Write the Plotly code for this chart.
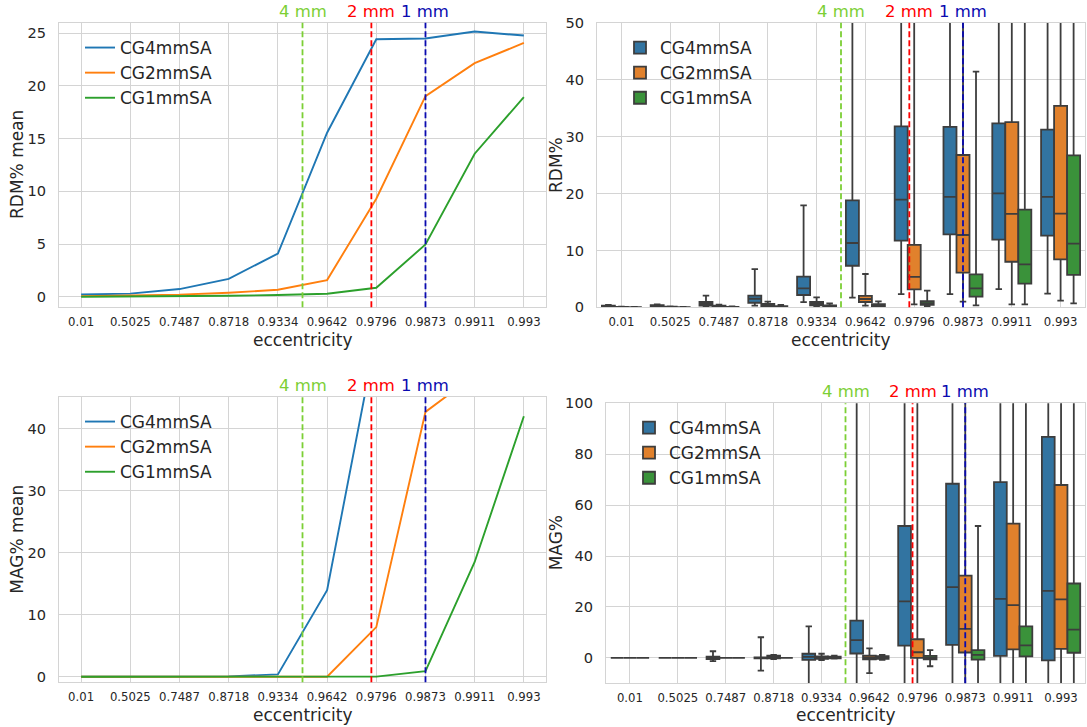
import plotly.graph_objects as go

W, H = 1087, 727
FONT = "DejaVu Sans"
TXT = "#262626"
GRID = "#d4d4d4"

categories = ["0.01", "0.5025", "0.7487", "0.8718", "0.9334",
              "0.9642", "0.9796", "0.9873", "0.9911", "0.993"]
series_names = ["CG4mmSA", "CG2mmSA", "CG1mmSA"]

# RDM% mean (top-left)
rdm_mean_4 = [0.22, 0.30, 0.73, 1.70, 4.10, 15.56, 24.43, 24.50, 25.16, 24.78]
rdm_mean_2 = [0.06, 0.10, 0.20, 0.38, 0.66, 1.58, 9.30, 19.03, 22.16, 24.08]
rdm_mean_1 = [0.00, 0.02, 0.05, 0.10, 0.16, 0.28, 0.85, 4.96, 13.57, 18.94]

# MAG% mean (bottom-left)
mag_mean_4 = [0.0, 0.0, 0.0, 0.05, 0.38, 13.96, 55.0, 58.0, 60.0, 61.0]
mag_mean_2 = [0.0, 0.0, 0.0, 0.0, 0.0, 0.0, 8.0, 42.7, 48.6, 52.0]
mag_mean_1 = [0.0, 0.0, 0.0, 0.0, 0.0, 0.0, 0.02, 0.9, 18.5, 42.0]

# RDM% box statistics (top-right)
rdm4_lo = [0.05, 0.10, 0.10, 0.30, 0.90, 1.70, 2.30, 2.30, 3.20, 2.40]
rdm4_q1 = [0.12, 0.20, 0.30, 0.80, 2.16, 7.30, 11.70, 12.80, 11.90, 12.60]
rdm4_md = [0.20, 0.28, 0.60, 1.50, 3.34, 11.30, 18.90, 19.40, 20.00, 19.40]
rdm4_q3 = [0.28, 0.38, 0.93, 2.04, 5.38, 18.80, 31.80, 31.70, 32.30, 31.20]
rdm4_hi = [0.40, 0.50, 2.04, 6.70, 17.90, 70.0, 75.0, 80.0, 85.0, 85.0]

rdm2_lo = [0.02, 0.03, 0.05, 0.10, 0.15, 0.28, 0.50, 1.00, 0.53, 1.17]
rdm2_q1 = [0.04, 0.05, 0.10, 0.20, 0.35, 0.93, 3.16, 6.09, 8.00, 8.43]
rdm2_md = [0.06, 0.08, 0.18, 0.35, 0.60, 1.46, 5.33, 12.70, 16.40, 16.45]
rdm2_q3 = [0.08, 0.11, 0.28, 0.60, 0.93, 1.99, 10.95, 26.76, 32.55, 35.40]
rdm2_hi = [0.12, 0.15, 0.45, 1.00, 1.76, 5.85, 70.0, 80.0, 85.0, 90.0]

rdm1_lo = [0.00, 0.00, 0.01, 0.02, 0.03, 0.05, 0.15, 0.35, 0.53, 0.70]
rdm1_q1 = [0.01, 0.01, 0.03, 0.06, 0.10, 0.20, 0.45, 1.87, 4.16, 5.68]
rdm1_md = [0.02, 0.02, 0.05, 0.10, 0.20, 0.35, 0.75, 3.34, 7.55, 11.18]
rdm1_q3 = [0.03, 0.03, 0.08, 0.20, 0.35, 0.55, 1.10, 5.80, 17.15, 26.70]
rdm1_hi = [0.05, 0.05, 0.15, 0.40, 0.70, 1.05, 2.93, 41.40, 60.0, 70.0]

# MAG% box statistics (bottom-right)
mag4_lo = [0.0, 0.0, -1.3, -5.0, -15.0, -15.0, -20.0, -20.0, -25.0, -30.0]
mag4_q1 = [0.0, 0.0, -0.5, -0.2, -0.8, 1.7, 4.8, 5.1, 0.8, -1.0]
mag4_md = [0.0, 0.0, 0.0, 0.0, 0.4, 7.0, 22.2, 27.8, 23.2, 26.3]
mag4_q3 = [0.0, 0.0, 0.5, 0.2, 1.6, 14.6, 51.8, 68.4, 69.0, 86.8]
mag4_hi = [0.0, 0.0, 2.6, 8.1, 12.4, 120.0, 130.0, 150.0, 160.0, 190.0]

mag2_lo = [0.0, 0.0, 0.0, -0.5, -0.9, -6.0, -15.0, -20.0, -20.0, -25.0]
mag2_q1 = [0.0, 0.0, 0.0, -0.2, -0.4, -0.6, 0.0, 2.1, 3.3, 3.5]
mag2_md = [0.0, 0.0, 0.0, 0.3, 0.2, 0.1, 2.2, 11.4, 20.7, 23.0]
mag2_q3 = [0.0, 0.0, 0.0, 0.9, 0.6, 0.9, 7.3, 32.3, 52.7, 67.9]
mag2_hi = [0.0, 0.0, 0.0, 1.2, 1.6, 3.7, 120.0, 140.0, 160.0, 180.0]

mag1_lo = [0.0, 0.0, 0.0, 0.0, -0.3, -0.8, -3.3, -15.0, -20.0, -25.0]
mag1_q1 = [0.0, 0.0, 0.0, 0.0, -0.2, -0.4, -0.6, -0.7, 0.6, 2.0]
mag1_md = [0.0, 0.0, 0.0, 0.0, 0.2, 0.1, 0.0, 1.2, 4.9, 11.1]
mag1_q3 = [0.0, 0.0, 0.0, 0.0, 0.5, 0.7, 0.8, 3.0, 12.4, 29.2]
mag1_hi = [0.0, 0.0, 0.0, 0.0, 0.9, 1.2, 3.0, 51.8, 110.0, 130.0]

# resolution markers (category positions)
mark_labels = ["4 mm", "2 mm", "1 mm"]
mark_pos = [4.5, 5.9, 7.0]
mark_colors = ["#7ccf35", "#ff0000", "#0a0ab0"]

line_colors = ["#1f77b4", "#ff7f0e", "#2ca02c"]
box_colors = ["#3274a1", "#e1812c", "#3a923a"]
BOX_EDGE = "#3d3d3d"


def xd(l, r):
    return [l / W, r / W]


def yd(t, b):
    return [1 - b / H, 1 - t / H]


def xax(dom, anchor, rng):
    return dict(domain=dom, anchor=anchor, type="category",
                categoryorder="array", categoryarray=categories,
                range=rng, showgrid=True, gridcolor=GRID, gridwidth=1,
                showline=True, mirror=True, linecolor=GRID, linewidth=1.25,
                ticks="", ticklabelstandoff=4, zeroline=False, automargin=False,
                tickfont=dict(family=FONT, size=11.7, color=TXT))


def yax(dom, anchor, rng, dtick):
    return dict(domain=dom, anchor=anchor, range=rng, dtick=dtick, tick0=0,
                showgrid=True, gridcolor=GRID, gridwidth=1,
                showline=True, mirror=True, linecolor=GRID, linewidth=1.25,
                ticks="", ticklabelstandoff=9, zeroline=False, automargin=False,
                tickfont=dict(family=FONT, size=14.6, color=TXT))


fig = go.Figure()

# line plots
for vals, name, col in zip([rdm_mean_4, rdm_mean_2, rdm_mean_1], series_names, line_colors):
    fig.add_trace(go.Scatter(x=categories, y=vals, mode="lines", name=name,
                             line=dict(color=col, width=1.9),
                             xaxis="x", yaxis="y", legend="legend"))
for vals, name, col in zip([mag_mean_4, mag_mean_2, mag_mean_1], series_names, line_colors):
    fig.add_trace(go.Scatter(x=categories, y=vals, mode="lines", name=name,
                             line=dict(color=col, width=1.9),
                             xaxis="x3", yaxis="y3", legend="legend3"))

# box plots
rdm_stats = [(rdm4_lo, rdm4_q1, rdm4_md, rdm4_q3, rdm4_hi),
             (rdm2_lo, rdm2_q1, rdm2_md, rdm2_q3, rdm2_hi),
             (rdm1_lo, rdm1_q1, rdm1_md, rdm1_q3, rdm1_hi)]
mag_stats = [(mag4_lo, mag4_q1, mag4_md, mag4_q3, mag4_hi),
             (mag2_lo, mag2_q1, mag2_md, mag2_q3, mag2_hi),
             (mag1_lo, mag1_q1, mag1_md, mag1_q3, mag1_hi)]
for stats, xa, ya, lg, grp in [(rdm_stats, "x2", "y2", "legend2", "rdm"),
                               (mag_stats, "x4", "y4", "legend4", "mag")]:
    for (lo, q1, md, q3, hi), name, col in zip(stats, series_names, box_colors):
        fig.add_trace(go.Box(x=categories, q1=q1, median=md, q3=q3,
                             lowerfence=lo, upperfence=hi, name=name,
                             fillcolor=col, line=dict(color=BOX_EDGE, width=1.8),
                             whiskerwidth=0.5, boxpoints=False,
                             alignmentgroup=grp, offsetgroup=grp + name,
                             xaxis=xa, yaxis=ya, legend=lg))

# panel geometry (pixels)
TL = dict(l=59, r=546, t=22.7, b=307.3)
TR = dict(l=597, r=1085, t=22.7, b=307.3)
BL = dict(l=59, r=546, t=397, b=682.3)
BR = dict(l=606, r=1085, t=403.3, b=683.3)

layout = dict(
    width=W, height=H, margin=dict(l=0, r=0, t=0, b=0),
    paper_bgcolor="white", plot_bgcolor="white",
    font=dict(family=FONT, color=TXT),
    boxmode="group", boxgap=0.2, boxgroupgap=0.0,
    xaxis=xax(xd(TL["l"], TL["r"]), "y", [-0.45, 9.45]),
    yaxis=yax(yd(TL["t"], TL["b"]), "x", [-1.0, 26.0], 5),
    xaxis2=xax(xd(TR["l"], TR["r"]), "y2", [-0.5, 9.5]),
    yaxis2=yax(yd(TR["t"], TR["b"]), "x2", [0, 50], 10),
    xaxis3=xax(xd(BL["l"], BL["r"]), "y3", [-0.45, 9.45]),
    yaxis3=yax(yd(BL["t"], BL["b"]), "x3", [-0.9, 45.1], 10),
    xaxis4=xax(xd(BR["l"], BR["r"]), "y4", [-0.5, 9.5]),
    yaxis4=yax(yd(BR["t"], BR["b"]), "x4", [-10, 100], 20),
)

leg_common = dict(xanchor="left", yanchor="top", bgcolor="rgba(0,0,0,0)",
                  font=dict(family=FONT, size=17, color=TXT), tracegroupgap=0)
layout["legend"] = dict(x=80 / W, y=1 - 30 / H, **leg_common)
layout["legend2"] = dict(x=620 / W, y=1 - 30 / H, **leg_common)
layout["legend3"] = dict(x=80 / W, y=1 - 404 / H, **leg_common)
layout["legend4"] = dict(x=629 / W, y=1 - 410 / H, **leg_common)

shapes = []
annotations = []
for xa, ya in [("x", "y"), ("x2", "y2"), ("x3", "y3"), ("x4", "y4")]:
    for lab, pos, col in zip(mark_labels, mark_pos, mark_colors):
        shapes.append(dict(type="line", xref=xa, yref=ya + " domain", x0=pos, x1=pos,
                           y0=0, y1=1, layer="above",
                           line=dict(color=col, width=1.8, dash="6px,3px")))
        annotations.append(dict(text=lab, xref=xa, yref=ya + " domain", x=pos, y=1,
                                xanchor="center", yanchor="bottom", showarrow=False,
                                yshift=0, font=dict(family=FONT, size=16.5, color=col)))

# axis titles
def title(text, x, y, angle=0):
    annotations.append(dict(text=text, xref="paper", yref="paper", x=x / W, y=1 - y / H,
                            xanchor="center", yanchor="middle", showarrow=False,
                            borderpad=0,
                            textangle=angle, font=dict(family=FONT, size=17, color=TXT)))

title("eccentricity", (TL["l"] + TL["r"]) / 2, 339.5)
title("eccentricity", (TR["l"] + TR["r"]) / 2, 339.5)
title("eccentricity", (BL["l"] + BL["r"]) / 2, 714.5)
title("eccentricity", (BR["l"] + BR["r"]) / 2, 714.5)
title("RDM% mean", 17, (TL["t"] + TL["b"]) / 2, -90)
title("RDM%", 556, (TR["t"] + TR["b"]) / 2, -90)
title("MAG% mean", 17, (BL["t"] + BL["b"]) / 2, -90)
title("MAG%", 556, (BR["t"] + BR["b"]) / 2, -90)

layout["shapes"] = shapes
layout["annotations"] = annotations
fig.update_layout(**layout)

fig.write_html("out.html")
